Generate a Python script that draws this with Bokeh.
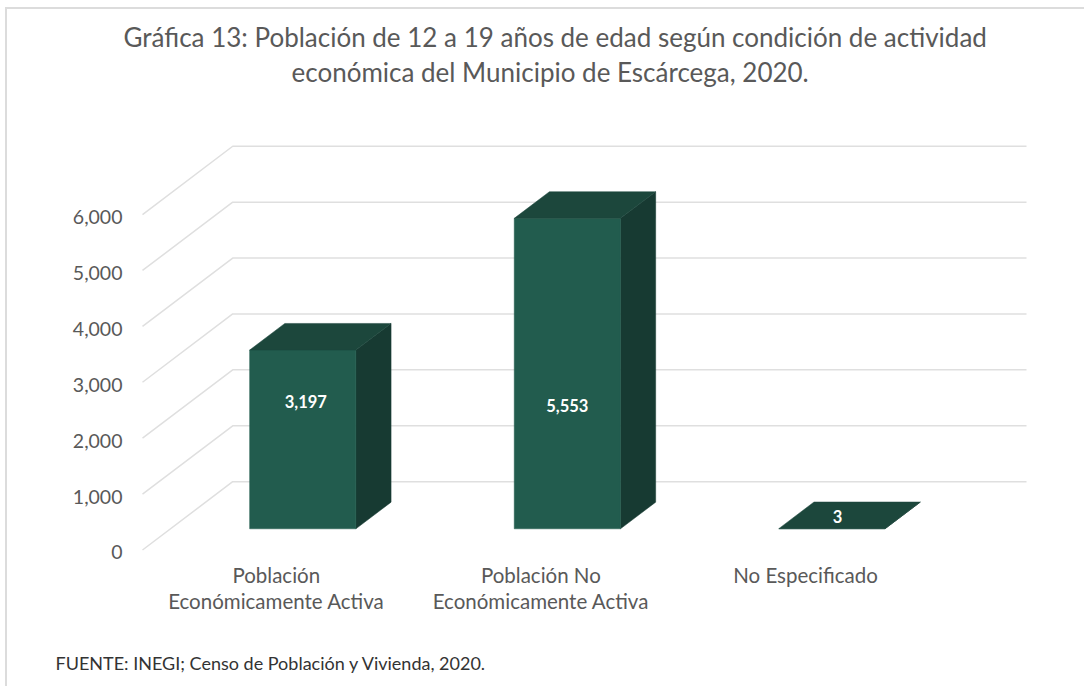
from bokeh.plotting import figure
from bokeh.models import ColumnDataSource, FixedTicker, LinearAxis, Range1d, Title
from bokeh.core.properties import value
from bokeh.embed import file_html
from bokeh.resources import INLINE

categories = ["Población\nEconómicamente Activa", "Población No\nEconómicamente Activa", "No Especificado"]
values = [3197, 5553, 3]
value_labels = ["3,197", "5,553", "3"]
y_ticks = [0, 1000, 2000, 3000, 4000, 5000, 6000]
title_lines = ["Gráfica 13: Población de 12 a 19 años de edad según condición de actividad",
               "económica del Municipio de Escárcega, 2020."]
source_text = "FUENTE: INEGI; Censo de Población y Vivienda, 2020."

FONT = "Lato"
FRONT, TOP, SIDE = "#225C4E", "#1C473C", "#173A32"
GRID, TEXT = "#DFDFDF", "#595959"

# page geometry, in px of the 1084x686 window
box_l, box_t = 7, 9                 # canvas origin, inside the css borders
fig_w, fig_h = 1079, 679
inner_w, inner_h = fig_w - 2, fig_h - 2
frame_l, frame_r, frame_t, frame_b = 140, 1028, 87, 553
zero_px, zero_x_px = 547.5, 142.0   # where value 0 of the front plane lands
px_per_slot = 264.0
px_per_unit = 334.0 / 6000
depth_x = 90 / px_per_slot          # full floor depth, in slots
depth_y = 68 / px_per_unit          # full floor depth, in value units
bar_w = 106 / px_per_slot
bar_d0, bar_d1 = 0.31, 0.70         # bar depth span as share of floor depth
label_levels = [2660, 2590, 590]    # where the value labels sit on the front scale
label_dx = [3.0, 0.0, 5.5]          # px nudge of the value labels
ylabel_drop = 2.5                   # px the y tick labels sit below their gridline ends
xlabel_dx = 1.5                     # px nudge of the x tick labels

x0 = (frame_l - zero_x_px) / px_per_slot
x_range = (x0, x0 + (frame_r - frame_l) / px_per_slot)
y0 = -(frame_b - zero_px) / px_per_unit
y_range = (y0, y0 + (frame_b - frame_t) / px_per_unit)

p = figure(width=fig_w, height=fig_h, x_range=x_range, y_range=y_range,
           y_axis_location=None,
           output_backend="svg", toolbar_location=None,
           min_border_left=frame_l - box_l, min_border_right=box_l + inner_w - frame_r,
           min_border_top=frame_t - box_t, min_border_bottom=box_t + inner_h - frame_b,
           background_fill_color="white", border_fill_color="white",
           outline_line_color=None)
p.styles = {"margin-left": "5px", "margin-top": "7px",
            "border-left": "2px solid #DCDCDC", "border-top": "2px solid #DCDCDC",
            "box-sizing": "border-box"}
p.grid.visible = False

# y axis, on a range shifted a little so the labels sit as in the reference
lab0 = y0 + ylabel_drop / px_per_unit
p.extra_y_ranges["labels"] = Range1d(lab0, lab0 + (frame_b - frame_t) / px_per_unit)
yaxis = LinearAxis(y_range_name="labels", ticker=FixedTicker(ticks=y_ticks),
                   major_label_overrides={t: f"{t:,}" for t in y_ticks},
                   axis_line_color=None, major_tick_line_color=None,
                   minor_tick_line_color=None, major_label_standoff=12,
                   major_label_text_font=FONT, major_label_text_font_size="19.5px",
                   major_label_text_color=TEXT)
p.add_layout(yaxis, "left")

# x axis
slots = [i + 0.5 for i in range(len(categories))]
label_ticks = [s + xlabel_dx / px_per_slot for s in slots]
p.xaxis.ticker = FixedTicker(ticks=label_ticks)
p.xaxis.major_label_overrides = dict(zip(label_ticks, categories))
p.xaxis.axis_line_color = None
p.xaxis.major_tick_line_color = None
p.xaxis.minor_tick_line_color = None
p.xaxis.major_label_standoff = 1
p.xaxis.major_label_text_font = FONT
p.xaxis.major_label_text_font_size = "20.5px"
p.xaxis.major_label_text_color = TEXT
p.xaxis.major_label_text_line_height = 1.12

# gridlines: floor/side diagonal then the back wall
gx, gy = [], []
for t in y_ticks:
    gx.append([0, depth_x, depth_x + len(categories)])
    gy.append([t, t + depth_y, t + depth_y])
p.multi_line(gx, gy, line_color=GRID, line_width=1.5)

# bars
fx, fy, tx, ty, sx, sy = [], [], [], [], [], []
for i, v in enumerate(values):
    c = slots[i]
    l = c - bar_w / 2 + bar_d0 * depth_x
    r = l + bar_w
    b = bar_d0 * depth_y
    h = b + v
    ddx = (bar_d1 - bar_d0) * depth_x
    ddy = (bar_d1 - bar_d0) * depth_y
    fx.append([l, r, r, l]); fy.append([b, b, h, h])
    tx.append([l, r, r + ddx, l + ddx]); ty.append([h, h, h + ddy, h + ddy])
    sx.append([r, r + ddx, r + ddx, r]); sy.append([b, b + ddy, h + ddy, h])
p.patches(sx, sy, fill_color=SIDE, line_color=SIDE, line_width=0.5)
p.patches(fx, fy, fill_color=FRONT, line_color=FRONT, line_width=0.5)
p.patches(tx, ty, fill_color=TOP, line_color=TOP, line_width=0.5)

# value labels
lbl = ColumnDataSource(dict(x=[slots[i] + bar_d0 * depth_x + label_dx[i] / px_per_slot for i in range(3)],
                            y=label_levels, t=value_labels))
p.text("x", "y", text="t", source=lbl, text_align="center", text_baseline="middle",
       text_color="white", text_font=value(FONT), text_font_style="bold",
       text_font_size="16.5px")

# title lines: nearest the frame first
title_style = dict(text_font=FONT, text_font_size="26px", text_font_style="normal",
                   text_color=TEXT, align="left")
p.add_layout(Title(text=title_lines[1], offset=291 - frame_l, standoff=0, **title_style), "above")
p.add_layout(Title(text=title_lines[0], offset=123 - frame_l, standoff=2, **title_style), "above")

# an empty line of space under the axis pushes the source note down
p.add_layout(Title(text=" ", text_font=FONT, text_font_size="15px", standoff=0), "below")
p.add_layout(Title(text=source_text, text_font=FONT, text_font_size="18px",
                   text_font_style="normal", text_color="#333333", align="left",
                   offset=55 - frame_l, standoff=26), "below")

open("out.html", "w").write(file_html(p, INLINE))
